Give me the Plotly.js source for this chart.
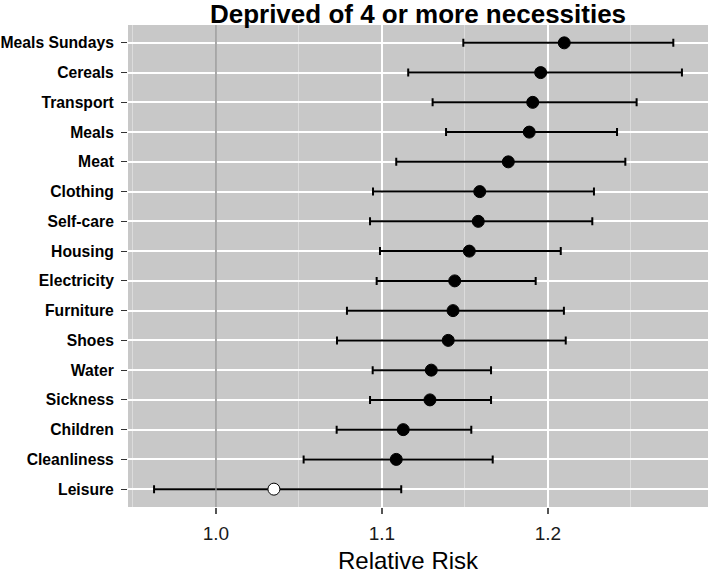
<!DOCTYPE html>
<html>
<head>
<meta charset="utf-8">
<script src="https://cdn.plot.ly/plotly-3.0.1.min.js"></script>
<style>
html,body{margin:0;padding:0;background:#fff;}
#chart{width:708px;height:573px;}
</style>
</head>
<body>
<div id="chart"></div>
<script>
// Categories, top to bottom
var categories = ["Meals Sundays","Cereals","Transport","Meals","Meat","Clothing","Self-care","Housing","Electricity","Furniture","Shoes","Water","Sickness","Children","Cleanliness","Leisure"];
// Relative risk point estimates
var rr    = [1.2098,1.1956,1.1908,1.1887,1.1761,1.1589,1.1580,1.1526,1.1438,1.1428,1.1399,1.1297,1.1289,1.1128,1.1086,1.0349];
// Lower confidence bounds
var lower = [1.1490,1.1158,1.1305,1.1386,1.1086,1.0946,1.0928,1.0988,1.0968,1.0789,1.0729,1.0944,1.0928,1.0727,1.0528,0.9627];
// Upper confidence bounds
var upper = [1.2755,1.2807,1.2534,1.2416,1.2466,1.2277,1.2267,1.2077,1.1926,1.2096,1.2107,1.1657,1.1657,1.1538,1.1667,1.1116];
// Whether the interval excludes 1
var significant = [true,true,true,true,true,true,true,true,true,true,true,true,true,true,true,false];
// x tick values
var xTicks = [1.0, 1.1, 1.2];
// reference value (no effect)
var refValue = 1.0;

var errPlus = upper.map(function(u,i){return u - rr[i];});
var errMinus = lower.map(function(l,i){return rr[i] - l;});
var fills = significant.map(function(s){return s ? "#000000" : "#FFFFFF";});

var traces = [{
  type: "scatter",
  mode: "markers",
  x: rr,
  y: categories,
  error_x: {type:"data", symmetric:false, array:errPlus, arrayminus:errMinus, color:"#000000", thickness:2, width:4},
  marker: {size:12, color:fills, line:{color:"#000000", width:1}},
  hoverinfo: "x+y",
  showlegend: false
}];

var layout = {
  width: 708, height: 573,
  margin: {l:128, r:0, t:25, b:66, pad:0},
  paper_bgcolor: "#FFFFFF",
  plot_bgcolor: "#C8C8C8",
  font: {family: "Liberation Sans, Arial, sans-serif", color:"#000000"},
  title: {
    text: "Deprived of 4 or more necessities",
    font: {size:26, weight:"bold", color:"#000000", family:"Liberation Sans, Arial, sans-serif"},
    x: 0.5, xref: "paper", xanchor: "center",
    y: 1, yref: "paper", yanchor: "bottom",
    pad: {b:2}
  },
  xaxis: {
    range: [0.947, 1.2964],
    tickvals: xTicks,
    ticktext: xTicks.map(function(v){return v.toFixed(1);}),
    ticks: "outside", ticklen: 6, tickwidth: 1.2, tickcolor: "#555555",
    ticklabelstandoff: 3,
    tickfont: {size:19, color:"#1A1A1A"},
    showgrid: true, gridcolor: "#FFFFFF", gridwidth: 1.8,
    minor: {dtick:0.05, tick0:0.95, showgrid:true, gridcolor:"#DCDCDC", gridwidth:1, ticks:""},
    zeroline: false, showline: false,
    automargin: false,
    fixedrange: true
  },
  yaxis: {
    type: "category",
    categoryorder: "array", categoryarray: categories,
    range: [15.6, -0.6],
    ticks: "outside", ticklen: 6, tickwidth: 1.2, tickcolor: "#333333",
    ticklabelstandoff: 4,
    tickfont: {size:15.7, weight:"bold", color:"#000000"},
    showgrid: true, gridcolor: "#FFFFFF", gridwidth: 2,
    zeroline: false, showline: false,
    automargin: false,
    fixedrange: true
  },
  annotations: [{
    text: "Relative Risk",
    xref: "paper", yref: "paper",
    x: 0.4828, y: -0.0788,
    xanchor: "center", yanchor: "top",
    showarrow: false,
    font: {size:24, color:"#000000"}
  }],
  shapes: [{
    type: "line", xref: "x", yref: "paper",
    x0: refValue, x1: refValue, y0: 0, y1: 1,
    line: {color: "#8C8C8C", width: 1.5},
    layer: "above"
  }]
};

Plotly.newPlot("chart", traces, layout, {displayModeBar:false, staticPlot:true});
</script>
</body>
</html>
